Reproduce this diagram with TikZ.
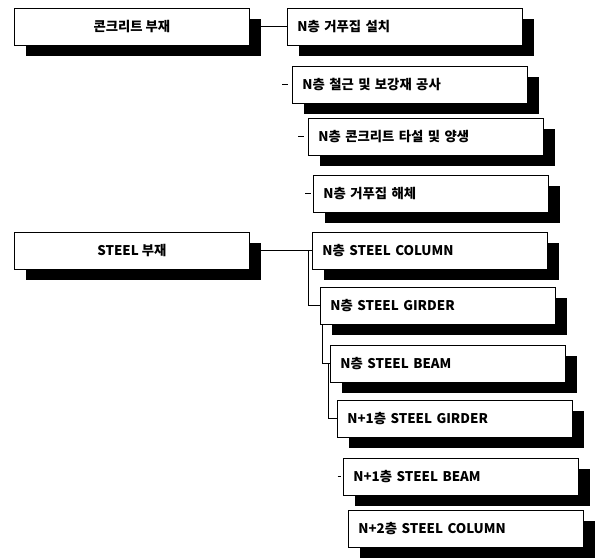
\documentclass[tikz,border=0pt]{standalone}
\usepackage{fontspec}
\setmainfont{Noto Sans CJK KR}
\usetikzlibrary{shadows}

\begin{document}
\begin{tikzpicture}[x=0.75pt, y=-0.75pt, font=\bfseries\fontsize{10pt}{12pt}\selectfont,
  member/.style={draw, line width=0.6pt, fill=white, rectangle, anchor=north west,
    minimum width=176.25pt, minimum height=27.75pt, inner xsep=7.5pt,
    general shadow={fill=black, shadow xshift=8.5pt, shadow yshift=-8pt}},
  parent/.style={member, align=center},
  child/.style={member, text width=161.25pt, align=left},
  stub/.style={line width=0.7pt}]
  \useasboundingbox (0,0) rectangle (598,557);
  \node[parent] (conc) at (14,8) {콘크리트 부재};
  \node[parent] (steel) at (14,232) {STEEL 부재};
  \node[child] (form) at (287,8) {N층 거푸집 설치};
  \node[child] (rebar) at (292,66) {N층 철근 및 보강재 공사};
  \node[child] (pour) at (308,118) {N층 콘크리트 타설 및 양생};
  \node[child] (strip) at (313,175) {N층 거푸집 해체};
  \node[child] (colN) at (312,232) {N층 STEEL COLUMN};
  \node[child] (girN) at (320,287) {N층 STEEL GIRDER};
  \node[child] (beamN) at (330,345) {N층 STEEL BEAM};
  \node[child] (girNa) at (337,400) {N+1층 STEEL GIRDER};
  \node[child] (beamNa) at (343,458) {N+1층 STEEL BEAM};
  \node[child] (colNb) at (348,510) {N+2층 STEEL COLUMN};
  \coordinate (trunk) at (308,250);
  \draw[stub] (conc.east) -- (conc.east -| form.west);
  \draw[stub] ([xshift=-7.5pt]rebar.west) -- ([xshift=-3pt]rebar.west);
  \draw[stub] ([xshift=-7.5pt]pour.west) -- ([xshift=-3pt]pour.west);
  \draw[stub] ([xshift=-6pt]strip.west) -- ([xshift=-1.5pt]strip.west);
  \draw[stub] (steel.east) -- (steel.east -| colN.west);
  \draw[stub] (steel.east -| trunk) |- (girN.west);
  \draw[stub] ([xshift=1.5pt]girN.south west) |- (beamN.west);
  \draw[stub] ([xshift=-1.5pt]beamN.west) |- (girNa.west);
  \draw[stub] ([xshift=-4pt]beamNa.west) -- ([xshift=-1.5pt]beamNa.west);
\end{tikzpicture}
\end{document}
